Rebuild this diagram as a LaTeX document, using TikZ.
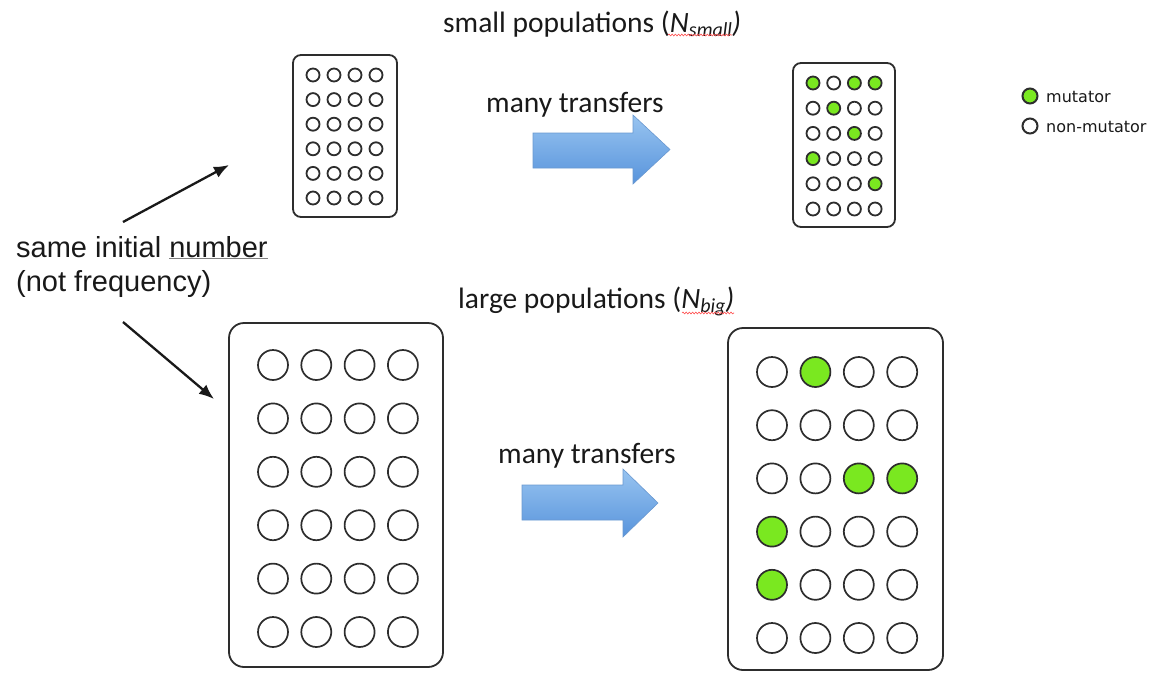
\documentclass[tikz,border=0pt]{standalone}
\usepackage{fontspec}
\setmainfont{Carlito}
\newfontfamily\arialfont{Liberation Sans}
\newfontfamily\legendfont{DejaVu Sans}
\usetikzlibrary{arrows.meta,decorations.pathmorphing}

\definecolor{ink}{RGB}{25,25,25}
\definecolor{edge}{RGB}{45,45,45}
\definecolor{mutgreen}{RGB}{122,232,32}
\colorlet{cellfill0}{white}
\colorlet{cellfill1}{mutgreen}
\definecolor{arrowtop}{RGB}{152,196,240}
\definecolor{arrowbot}{RGB}{88,148,220}
\definecolor{arrowedge}{RGB}{105,152,208}

\tikzset{
  plate/.style={draw=edge, line width=1.8pt, fill=white, inner sep=0pt},
  cellS/.style={circle, draw=edge, line width=1.8pt, minimum size=13pt, inner sep=0pt},
  cellL/.style={circle, draw=edge, line width=1.7pt, minimum size=30pt, inner sep=0pt},
  blockarrow/.style={top color=arrowtop, bottom color=arrowbot, draw=arrowedge, line width=0.6pt},
  label/.style={anchor=base west, inner sep=0pt, text=ink},
  pointer/.style={draw=ink, line width=2.3pt, -{Latex[length=15pt,width=12pt]}},
  squiggle/.style={draw=red!70, line width=0.6pt, decorate,
    decoration={snake, amplitude=0.9pt, segment length=3.2pt}},
}

\begin{document}
\begin{tikzpicture}[x=1pt,y=-1pt]
\useasboundingbox (0,0) rectangle (1151,672);

% ---- headings ----
\node[label, font=\fontsize{29.5}{31}\selectfont] (hsmall) at (443,32)
  {small populations (\textit{N}\raisebox{-4pt}{\fontsize{20}{20}\selectfont\itshape small}\textit{)}};
\draw[squiggle] (668,35) -- (732,35);

\node[label, font=\fontsize{29.5}{31}\selectfont] (hbig) at (458,308)
  {large populations (\textit{N}\raisebox{-4pt}{\fontsize{20}{20}\selectfont\itshape big}\textit{)}};
\draw[squiggle] (682,313) -- (734,313);

% ---- left-hand remark ----
\node[label, font=\arialfont\fontsize{29}{31}\selectfont] (same) at (16,257)
  {same initial \textcolor{gray}{\underline{\textcolor{ink}{number}}}};
\node[label, font=\arialfont\fontsize{29}{31}\selectfont] (notfreq) at (16,291)
  {(not frequency)};

\coordinate (upstart) at (123,222);
\coordinate (upend) at (229,165);
\coordinate (downstart) at (123,322);
\coordinate (downend) at (214,399);
\draw[pointer] (upstart) -- (upend);
\draw[pointer] (downstart) -- (downend);

% ---- small populations: start ----
\node[plate, rounded corners=8pt, minimum width=104pt, minimum height=162pt] (smallstart) at (345,136) {};
\foreach \r in {1,...,6}
  \foreach \c in {1,...,4}
    \node[cellS, fill=white] (ss-\r-\c) at ({313+(\c-1)*21},{75+(\r-1)*24.6}) {};

% ---- small populations: after transfers ----
\node[plate, rounded corners=8pt, minimum width=102pt, minimum height=164pt] (smallend) at (844,145) {};
\foreach \pat [count=\r] in {{1,0,1,1},{0,1,0,0},{0,0,1,0},{1,0,0,0},{0,0,0,1},{0,0,0,0}}
  \foreach \v [count=\c] in \pat
    \node[cellS, fill=cellfill\v] (se-\r-\c) at ({813+(\c-1)*20.7},{83+(\r-1)*25.2}) {};

% ---- large populations: start ----
\node[plate, rounded corners=15pt, minimum width=214pt, minimum height=344pt] (bigstart) at (336,495) {};
\foreach \r in {1,...,6}
  \foreach \c in {1,...,4}
    \node[cellL, fill=white] (bs-\r-\c) at ({273+(\c-1)*43.3},{365+(\r-1)*53.4}) {};

% ---- large populations: after transfers ----
\node[plate, rounded corners=15pt, minimum width=215pt, minimum height=342pt] (bigend) at (835.5,499) {};
\foreach \pat [count=\r] in {{0,1,0,0},{0,0,0,0},{0,0,1,1},{1,0,0,0},{1,0,0,0},{0,0,0,0}}
  \foreach \v [count=\c] in \pat
    \node[cellL, fill=cellfill\v] (be-\r-\c) at ({772+(\c-1)*43.4},{372+(\r-1)*53.2}) {};

% ---- transfer arrows ----
\node[label, font=\fontsize{29.5}{31}\selectfont] (mt1) at (486,112) {many transfers};
\path[blockarrow] (533,133) -- (633,133) -- (633,115) -- (670,149.5)
  -- (633,184) -- (633,168) -- (533,168) -- cycle;

\node[label, font=\fontsize{29.5}{31}\selectfont] (mt2) at (498,463) {many transfers};
\path[blockarrow] (522,485) -- (623,485) -- (623,469) -- (658,503)
  -- (623,537) -- (623,520) -- (522,520) -- cycle;

% ---- legend ----
\node[cellS, minimum size=15pt, line width=2pt, fill=mutgreen] (keymut) at (1030,96) {};
\node[anchor=west, inner sep=0pt, text=ink, font=\legendfont\fontsize{16}{17}\selectfont] (keymuttext) at (1046,97) {mutator};
\node[cellS, minimum size=15pt, line width=2pt, fill=white] (keynon) at (1030,126) {};
\node[anchor=west, inner sep=0pt, text=ink, font=\legendfont\fontsize{16}{17}\selectfont] (keynontext) at (1046,127) {non-mutator};
\end{tikzpicture}
\end{document}
